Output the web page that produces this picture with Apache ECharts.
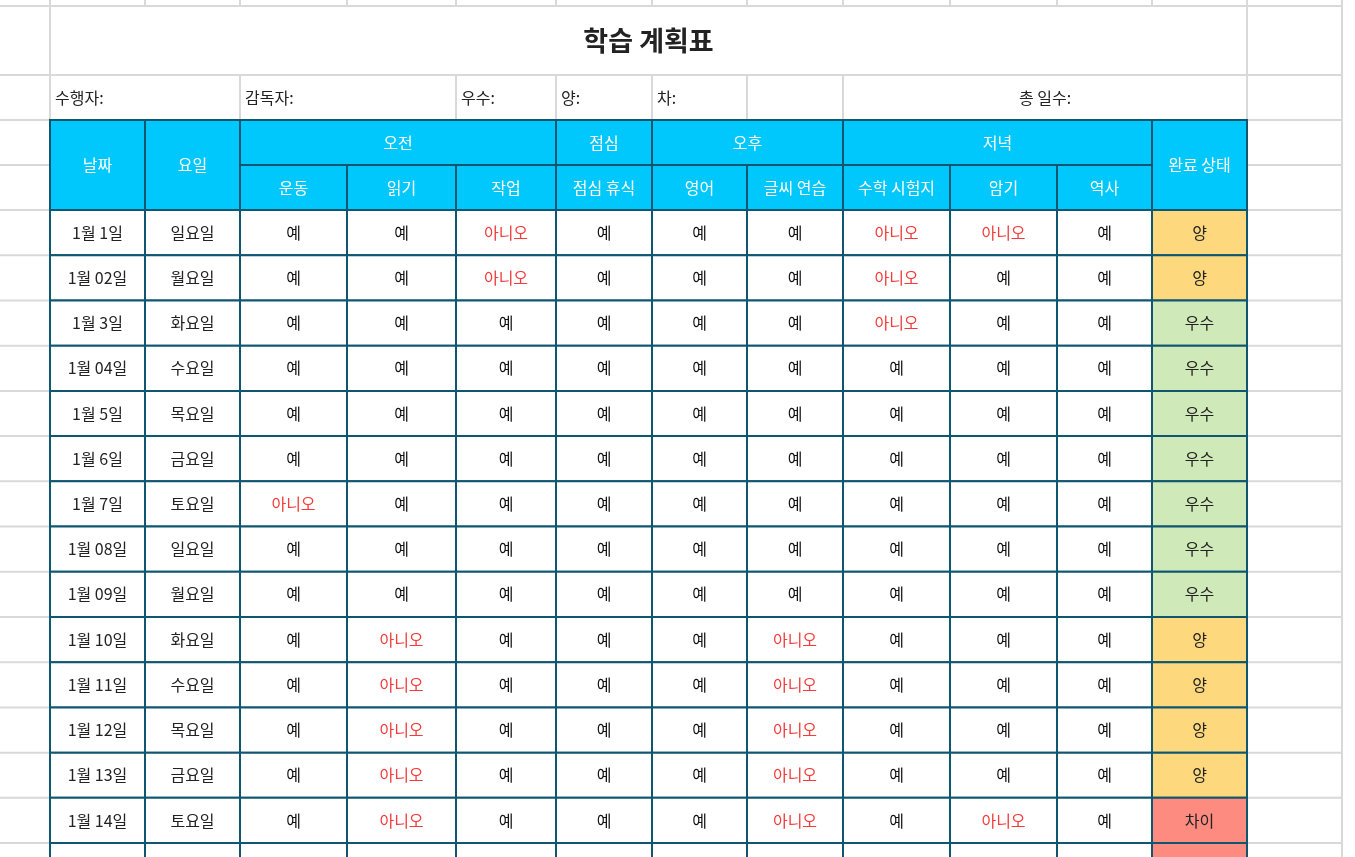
<!DOCTYPE html>
<html><head><meta charset="utf-8">
<script src="https://cdn.jsdelivr.net/npm/echarts@6/dist/echarts.min.js"></script>
<style>html,body{margin:0;padding:0;background:#fff}#c{width:1355px;height:857px}</style>
</head><body><div id="c"></div>
<script>
// column edges and row edges of the sheet
const colEdges = [50, 145, 240, 347, 456, 556, 652, 747, 843, 950, 1057, 1152, 1247, 1342];
const rowEdges = [6, 75, 120, 165, 210];
const rowH = 45.22;

const title = '학습 계획표';
const infoCells = [['수행자:', 0, 2, 'left'], ['감독자:', 2, 4, 'left'], ['우수:', 4, 5, 'left'], ['양:', 5, 6, 'left'], ['차:', 6, 7, 'left'], ['', 7, 8, 'left'], ['총 일수:', 8, 12, 'center']];
const groupHeaders = [['날짜', 0, 1, 2], ['요일', 1, 2, 2], ['오전', 2, 5, 1], ['점심', 5, 6, 1], ['오후', 6, 8, 1], ['저녁', 8, 11, 1], ['완료 상태', 11, 12, 2]];
const subHeaders = ['운동', '읽기', '작업', '점심 휴식', '영어', '글씨 연습', '수학 시험지', '암기', '역사'];

const dates = ['1월 1일', '1월 02일', '1월 3일', '1월 04일', '1월 5일', '1월 6일', '1월 7일', '1월 08일', '1월 09일', '1월 10일', '1월 11일', '1월 12일', '1월 13일', '1월 14일', ''];
const days = ['일요일', '월요일', '화요일', '수요일', '목요일', '금요일', '토요일', '일요일', '월요일', '화요일', '수요일', '목요일', '금요일', '토요일', ''];
// 1 = 예, 0 = 아니오, -1 = blank
const done = [
  [1, 1, 0, 1, 1, 1, 0, 0, 1],
  [1, 1, 0, 1, 1, 1, 0, 1, 1],
  [1, 1, 1, 1, 1, 1, 0, 1, 1],
  [1, 1, 1, 1, 1, 1, 1, 1, 1],
  [1, 1, 1, 1, 1, 1, 1, 1, 1],
  [1, 1, 1, 1, 1, 1, 1, 1, 1],
  [0, 1, 1, 1, 1, 1, 1, 1, 1],
  [1, 1, 1, 1, 1, 1, 1, 1, 1],
  [1, 1, 1, 1, 1, 1, 1, 1, 1],
  [1, 0, 1, 1, 1, 0, 1, 1, 1],
  [1, 0, 1, 1, 1, 0, 1, 1, 1],
  [1, 0, 1, 1, 1, 0, 1, 1, 1],
  [1, 0, 1, 1, 1, 0, 1, 1, 1],
  [1, 0, 1, 1, 1, 0, 1, 0, 1],
  [-1, -1, -1, -1, -1, -1, -1, -1, -1]
];
const status = ['양', '양', '우수', '우수', '우수', '우수', '우수', '우수', '우수', '양', '양', '양', '양', '차이', ''];
const statusColor = {'양': '#fdd87d', '우수': '#d0e9b9', '차이': '#fd8b80', '': '#fd8b80'};

const FONT = '"Noto Sans CJK KR", "Noto Sans", sans-serif';
const GRID = '#d9d9d9', BORDER = '#0f5670', HEAD = '#00c8fd';

// build cells: [x0, y0, x1, y1, text, fill, stroke, textColor, align, fontSize, bold]
const cells = [];
const cx = i => colEdges[i];
cells.push([cx(0), rowEdges[0], cx(12), rowEdges[1], title, '#fff', GRID, '#222', 'center', 27, 1]);
infoCells.forEach(c => cells.push([cx(c[1]), rowEdges[1], cx(c[2]), rowEdges[2], c[0], '#fff', GRID, '#222', c[3], 16, 0]));
const tableCells = [];
groupHeaders.forEach(g => tableCells.push([cx(g[1]), rowEdges[2], cx(g[2]), rowEdges[2] + 45 * g[3], g[0], HEAD, BORDER, '#fff', 'center', 16, 0]));
subHeaders.forEach((s, i) => tableCells.push([cx(i + 2), rowEdges[3], cx(i + 3), rowEdges[4], s, HEAD, BORDER, '#fff', 'center', 16, 0]));
dates.forEach((d, r) => {
  const y0 = rowEdges[4] + r * rowH, y1 = y0 + rowH;
  tableCells.push([cx(0), y0, cx(1), y1, d, '#fff', BORDER, '#222', 'center', 16, 0]);
  tableCells.push([cx(1), y0, cx(2), y1, days[r], '#fff', BORDER, '#222', 'center', 16, 0]);
  done[r].forEach((v, i) => tableCells.push([cx(i + 2), y0, cx(i + 3), y1, v === 1 ? '예' : v === 0 ? '아니오' : '', '#fff', BORDER, v === 0 ? '#f43a3a' : '#111', 'center', 16, 0]));
  tableCells.push([cx(11), y0, cx(12), y1, status[r], statusColor[status[r]], BORDER, '#222', 'center', 16, 0]);
});

// background sheet gridlines
const gridLines = [];
colEdges.forEach(x => gridLines.push([x, 0, x, 857]));
const allRows = rowEdges.slice();
for (let y = rowEdges[4] + rowH; y < 857; y += rowH) allRows.push(y);
allRows.forEach(y => gridLines.push([0, y, 1342, y]));

const chart = echarts.init(document.getElementById('c'));
chart.setOption({
  animation: false,
  grid: {left: 0, right: 0, top: 0, bottom: 0},
  xAxis: {type: 'value', min: 0, max: 1355, show: false},
  yAxis: {type: 'value', min: 0, max: 857, inverse: true, show: false},
  series: [
    {
      type: 'custom', data: gridLines, silent: true,
      renderItem: (params, api) => {
        const a = api.coord([api.value(0), api.value(1)]), b = api.coord([api.value(2), api.value(3)]);
        return {type: 'line', shape: {x1: a[0], y1: a[1], x2: b[0], y2: b[1]}, style: {stroke: GRID, lineWidth: 2}};
      }
    },
    ...[cells, tableCells].map(list => ({
      type: 'custom', data: list, silent: true,
      renderItem: (params, api) => {
        const c = list[params.dataIndex];
        const a = api.coord([c[0], c[1]]), b = api.coord([c[2], c[3]]);
        const left = c[8] === 'left';
        return {
          type: 'group', children: [
            {type: 'rect', shape: {x: a[0], y: a[1], width: b[0] - a[0], height: b[1] - a[1]},
              style: {fill: c[5], stroke: c[6], lineWidth: 2}},
            {type: 'text', style: {text: c[4], x: left ? a[0] + 5 : (a[0] + b[0]) / 2, y: (a[1] + b[1]) / 2,
              align: left ? 'left' : 'center', verticalAlign: 'middle', fill: c[7],
              font: (c[10] ? 'bold ' : '') + c[9] + 'px ' + FONT}}
          ]
        };
      }
    }))
  ]
});
</script></body></html>
